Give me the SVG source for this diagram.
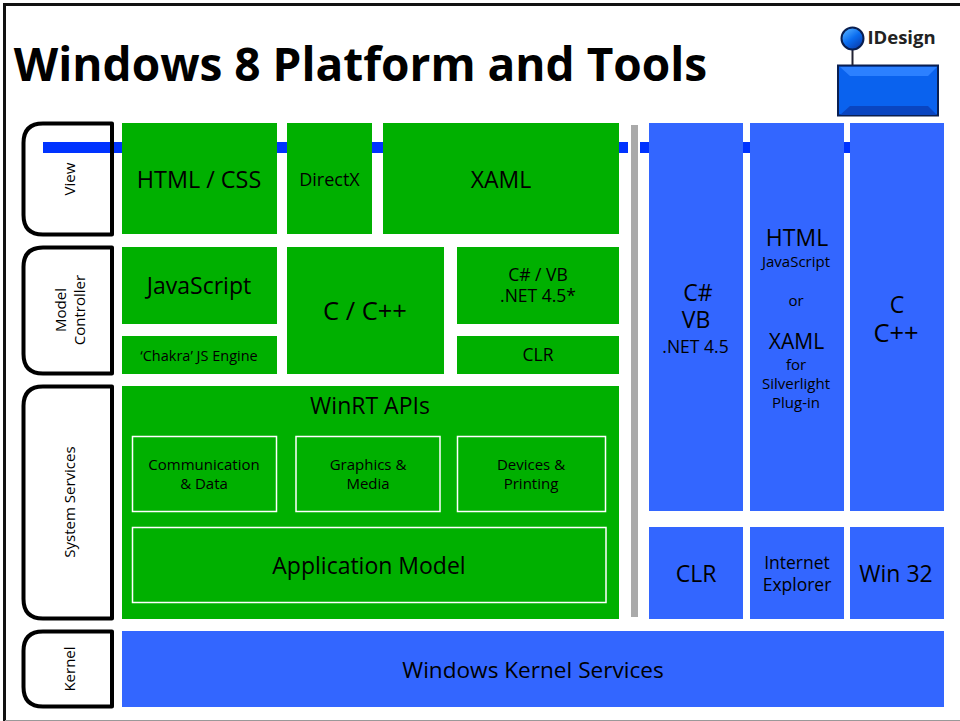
<svg xmlns="http://www.w3.org/2000/svg" width="960" height="721" viewBox="0 0 960 721">
<defs>
<linearGradient id="ball" x1="0.2" y1="0.1" x2="0.8" y2="0.9"><stop offset="0" stop-color="#4aa8ff"/><stop offset="0.5" stop-color="#0a6cf0"/><stop offset="1" stop-color="#0a3fb0"/></linearGradient>
</defs>
<style>
text{font-family:"Open Sans","Noto Sans","DejaVu Sans",sans-serif;fill:#000;text-anchor:middle}
.g{fill:#00b000}
.b{fill:#3366ff}
.w{fill:none;stroke:#fff;stroke-width:1.5}
.tab{fill:none;stroke:#000;stroke-width:4;stroke-linejoin:round}
.s14{font-size:15px}
.s145{font-size:14.500px}
.s17{font-size:17.500px}
.s18{font-size:18px}
.s21{font-size:21px}
.s23{font-size:23px}
.s26{font-size:25.500px}
</style>
<rect width="960" height="721" fill="#fff"/>
<path d="M4.500 721V4.500H960" fill="none" stroke="#111" stroke-width="3"/>
<path d="M5 720.500H960" fill="none" stroke="#999" stroke-width="1"/>
<text id="title" x="360.500" y="81" style="font-size:46px;font-weight:700">Windows 8 Platform and Tools</text>
<g id="logo">
<rect x="838" y="65.500" width="100" height="50" fill="#0a62ee" stroke="#0a1f50" stroke-width="2"/>
<path d="M840 67l10 9h78l9-9z" fill="#2c80ff"/>
<path d="M840 115l10-9h78l9 9z" fill="#0a45c0"/>
<path d="M852.500 48V65" stroke="#223" stroke-width="2"/>
<circle cx="852.500" cy="38.500" r="11" fill="url(#ball)" stroke="#0a1f50" stroke-width="2"/>
<text x="901.500" y="44" style="font-size:18.500px;font-weight:700;fill:#222">IDesign</text>
</g>
<g id="connectors">
<path d="M43 147.500H628M640 147.500H850" stroke="#0033ff" stroke-width="11" fill="none"/>
<rect x="631" y="125" width="7" height="492" fill="#aaaaaa"/>
</g>
<g id="tab-view">
<path class="tab" d="M112 123.500H43Q23.500 123.500 23.500 143V215Q23.500 234.500 43 234.500H112Z"/>
<text class="s14" transform="translate(75,179) rotate(-90)">View</text>
</g>
<g id="tab-model">
<path class="tab" d="M112 247.500H43Q23.500 247.500 23.500 267V354Q23.500 373.500 43 373.500H112Z"/>
<text class="s14" transform="translate(66,310) rotate(-90)">Model</text>
<text class="s14" transform="translate(85,310) rotate(-90)">Controller</text>
</g>
<g id="tab-system">
<path class="tab" d="M112 386.500H43Q23.500 386.500 23.500 406V599Q23.500 618.500 43 618.500H112Z"/>
<text class="s14" transform="translate(75,502) rotate(-90)">System Services</text>
</g>
<g id="tab-kernel">
<path class="tab" d="M112 631.500H43Q23.500 631.500 23.500 651V687Q23.500 706.500 43 706.500H112Z"/>
<text class="s14" transform="translate(75,669) rotate(-90)">Kernel</text>
</g>
<g id="html-css"><rect class="g" x="122" y="123" width="155" height="111"/><text class="s23" x="199" y="188" style="font-size:23.400px">HTML / CSS</text></g>
<g id="directx"><rect class="g" x="287" y="123" width="85" height="111"/><text class="s18" x="329.500" y="186">DirectX</text></g>
<g id="xaml"><rect class="g" x="383" y="123" width="236" height="111"/><text class="s23" x="501" y="188">XAML</text></g>
<g id="javascript"><rect class="g" x="122" y="247" width="155" height="77"/><text class="s23" x="199" y="294">JavaScript</text></g>
<g id="chakra"><rect class="g" x="122" y="336" width="155" height="38"/><text class="s145" x="199" y="361">‘Chakra’ JS Engine</text></g>
<g id="c-cpp"><rect class="g" x="287" y="247" width="157" height="127"/><text class="s26" x="365" y="320">C / C++</text></g>
<g id="csharp-vb"><rect class="g" x="457" y="247" width="162" height="77"/><text class="s17" x="538" y="281">C# / VB</text><text class="s17" x="538" y="302">.NET 4.5*</text></g>
<g id="clr-left"><rect class="g" x="457" y="336" width="162" height="38"/><text class="s17" x="538" y="361">CLR</text></g>
<g id="winrt"><rect class="g" x="122" y="386" width="497" height="233"/><text class="s23" x="370" y="414">WinRT APIs</text></g>
<g id="comm"><rect class="w" x="132.500" y="436.500" width="144" height="75"/><text class="s14" x="204" y="470">Communication</text><text class="s14" x="204" y="489">&amp; Data</text></g>
<g id="graphics"><rect class="w" x="296" y="436.500" width="144" height="75"/><text class="s14" x="368" y="470">Graphics &amp;</text><text class="s14" x="368" y="489">Media</text></g>
<g id="devices"><rect class="w" x="457.500" y="436.500" width="148" height="75"/><text class="s14" x="531" y="470">Devices &amp;</text><text class="s14" x="531" y="489">Printing</text></g>
<g id="appmodel"><rect class="w" x="132.500" y="527.500" width="473.500" height="75"/><text class="s23" x="369" y="574">Application Model</text></g>
<g id="col-csharp"><rect class="b" x="649" y="123" width="94" height="388"/><text class="s23" x="698" y="301">C#</text><text class="s23" x="696" y="328">VB</text><text class="s17" x="695.500" y="353">.NET 4.5</text></g>
<g id="col-html"><rect class="b" x="750" y="123" width="94" height="388"/><text class="s23" x="797" y="246">HTML</text><text class="s14" x="796" y="267">JavaScript</text><text class="s14" x="796" y="306">or</text><text class="s21" x="796.500" y="349">XAML</text><text class="s14" x="796" y="370">for</text><text class="s14" x="796" y="389">Silverlight</text><text class="s14" x="796" y="408">Plug-in</text></g>
<g id="col-c"><rect class="b" x="850" y="123" width="94" height="388"/><text class="s23" x="897" y="313">C</text><text class="s26" x="896" y="342">C++</text></g>
<g id="clr-right"><rect class="b" x="649" y="527" width="94" height="92"/><text class="s23" x="696" y="582">CLR</text></g>
<g id="ie"><rect class="b" x="750" y="527" width="94" height="92"/><text class="s17" x="797" y="569">Internet</text><text class="s17" x="797" y="591">Explorer</text></g>
<g id="win32"><rect class="b" x="850" y="527" width="94" height="92"/><text class="s23" x="896" y="582">Win 32</text></g>
<g id="kernel"><rect class="b" x="122" y="631" width="822" height="76"/><text class="s23" x="533" y="678" style="font-size:22.600px">Windows Kernel Services</text></g>
</svg>
